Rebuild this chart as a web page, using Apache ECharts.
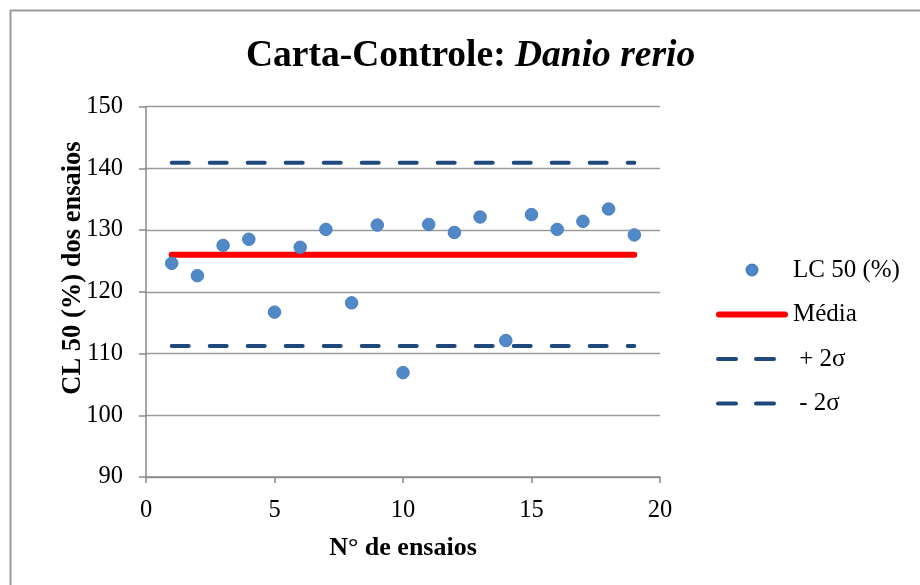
<!DOCTYPE html>
<html>
<head>
<meta charset="utf-8">
<script src="https://cdn.jsdelivr.net/npm/echarts@6/dist/echarts.min.js"></script>
<style>
html,body{margin:0;padding:0;background:#fff;}
#chart{width:920px;height:585px;}
</style>
</head>
<body>
<div id="chart"></div>
<script>
const trials = [1,2,3,4,5,6,7,8,9,10,11,12,13,14,15,16,17,18,19];
const lc50 = [124.6,122.6,127.5,128.5,116.7,127.2,130.1,118.2,130.8,106.9,130.9,129.6,132.1,112.1,132.5,130.1,131.4,133.4,129.2];
const limitX = [1, 19];
const mean = 126.0;
const upper = 140.9;
const lower = 111.2;
const yTicks = [90, 150, 10];
const xTicks = [0, 20, 5];

const FONT = "'Liberation Serif','Times New Roman',serif";
const chart = echarts.init(document.getElementById('chart'), null, {renderer:'canvas'});
const dashStyle = {color:'#1F497D', width:4, type:[17,21], cap:'round'};
const solidIcon = 'path://M3 0 L69 0 A3 3 0 0 1 69 6 L3 6 A3 3 0 0 1 3 0 Z';
const dashIcon = 'path://M2 0 L20 0 A2 2 0 0 1 20 4 L2 4 A2 2 0 0 1 2 0 Z M40 0 L58 0 A2 2 0 0 1 58 4 L40 4 A2 2 0 0 1 40 0 Z M72 2 L72 2 Z';
const dotIcon = 'path://M0 0 L0 0 Z M72 14 L72 14 Z M41.5 7 A5.5 5.5 0 1 1 30.5 7 A5.5 5.5 0 1 1 41.5 7 Z';

chart.setOption({
  animation:false,
  backgroundColor:'#fff',
  title:{
    text:'{a|Carta-Controle: }{b|Danio rerio}',
    left:246, top:38, padding:0,
    textStyle:{
      rich:{
        a:{fontFamily:FONT, fontWeight:'bold', fontSize:37.5, color:'#000', lineHeight:37},
        b:{fontFamily:FONT, fontWeight:'bold', fontStyle:'italic', fontSize:37.5, color:'#000', lineHeight:37}
      }
    }
  },
  grid:{left:146, right:260, top:106.5, bottom:108, containLabel:false},
  legend:{
    orient:'vertical', left:710, top:252.5,
    itemWidth:72, itemHeight:14, itemGap:19.5,
    symbolKeepAspect:true,
    textStyle:{fontFamily:FONT, fontSize:25, color:'#000'},
    data:[
      {name:'LC 50 (%)', icon:dotIcon},
      {name:'Média', icon:solidIcon},
      {name:' + 2σ', icon:dashIcon},
      {name:' - 2σ', icon:dashIcon}
    ]
  },
  xAxis:{
    type:'value', min:xTicks[0], max:xTicks[1], interval:xTicks[2],
    name:'N° de ensaios', nameLocation:'middle', nameGap:58,
    nameTextStyle:{fontFamily:FONT, fontWeight:'bold', fontSize:26, color:'#000'},
    axisLine:{lineStyle:{color:'#888', width:1.5}},
    axisTick:{show:true, length:6, lineStyle:{color:'#888', width:1.5}},
    axisLabel:{fontFamily:FONT, fontSize:24.5, color:'#000', margin:21},
    splitLine:{show:false}
  },
  yAxis:{
    type:'value', min:yTicks[0], max:yTicks[1], interval:yTicks[2],
    axisLine:{show:true, lineStyle:{color:'#888', width:1.5}},
    axisTick:{show:true, length:7, lineStyle:{color:'#888', width:1.5}},
    axisLabel:{fontFamily:FONT, fontSize:24.5, color:'#000', margin:23},
    splitLine:{show:true, lineStyle:{color:'#9a9a9a', width:1.3}}
  },
  graphic:[
    {type:'polyline', shape:{points:[[10.5,585],[10.5,10.5],[920,10.5]]}, style:{stroke:'#999', lineWidth:2, fill:null}, silent:true},
    {type:'text', x:73, y:268, rotation:Math.PI/2, style:{text:'CL 50 (%) dos ensaios', fontFamily:FONT, fontWeight:'bold', fontSize:26.5, fill:'#000', align:'center', verticalAlign:'middle'}}
  ],
  series:[
    {name:'Média', type:'line', symbol:'none', data:limitX.map(x=>[x,mean]),
     lineStyle:{color:'#FF0000', width:6, cap:'round'}, itemStyle:{color:'#FF0000', borderWidth:0}, z:2},
    {name:' + 2σ', type:'line', symbol:'none', data:limitX.map(x=>[x,upper]),
     lineStyle:dashStyle, itemStyle:{color:'#1F497D', borderWidth:0}, z:2},
    {name:' - 2σ', type:'line', symbol:'none', data:limitX.map(x=>[x,lower]),
     lineStyle:dashStyle, itemStyle:{color:'#1F497D', borderWidth:0}, z:2},
    {name:'LC 50 (%)', type:'scatter', symbol:'circle', symbolSize:12.5,
     data:trials.map((t,i)=>[t,lc50[i]]),
     itemStyle:{color:'#5088C8', borderColor:'#4A7FBF', borderWidth:1, opacity:1}, z:3}
  ]
});
</script>
</body>
</html>
